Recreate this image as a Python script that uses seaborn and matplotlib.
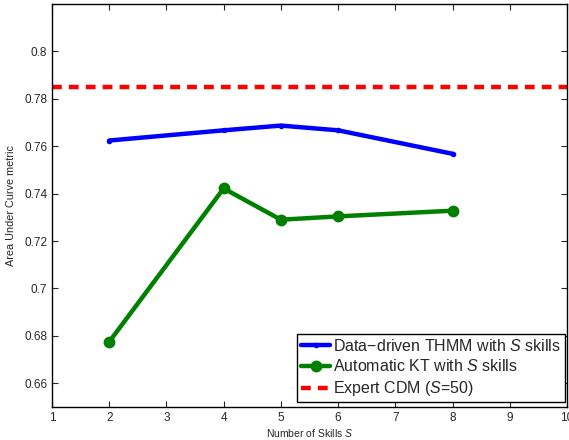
import matplotlib
matplotlib.use("Agg")
import matplotlib.pyplot as plt
import seaborn as sns
import pandas as pd

skills = [2, 4, 5, 6, 8]
thmm_auc = [0.7624, 0.7667, 0.7687, 0.7667, 0.7568]
kt_auc = [0.6775, 0.7422, 0.7290, 0.7304, 0.7328]
expert_auc = 0.785
xticks = [1, 2, 3, 4, 5, 6, 7, 8, 9, 10]
yticks = [0.66, 0.68, 0.70, 0.72, 0.74, 0.76, 0.78, 0.80]
ytick_labels = ["0.66", "0.68", "0.7", "0.72", "0.74", "0.76", "0.78", "0.8"]

sns.set_style("ticks")
plt.rcParams['font.family'] = ['Liberation Sans', 'DejaVu Sans']
plt.rcParams['mathtext.fontset'] = 'custom'
plt.rcParams['mathtext.it'] = 'Liberation Sans:italic'
plt.rcParams['mathtext.rm'] = 'Liberation Sans'

df = pd.DataFrame({"S": skills, "thmm": thmm_auc, "kt": kt_auc})

fig = plt.figure(figsize=(5.69, 4.40), dpi=100)
ax = fig.add_axes([0.0914, 0.075, 0.905, 0.916])

sns.lineplot(data=df, x="S", y="thmm", ax=ax, color="#0000ff", lw=3.2,
             marker="o", markersize=4, markeredgewidth=0,
             label="Data\u2212driven THMM with $S$ skills")
sns.lineplot(data=df, x="S", y="kt", ax=ax, color="#008000", lw=3.2,
             marker="o", markersize=8.5, markeredgewidth=0,
             label="Automatic KT with $S$ skills")
ax.axhline(expert_auc, color="#ff0000", lw=3.2, dashes=(2.2, 1.6),
           label="Expert CDM ($S$=50)")

ax.set_xlim(1, 10)
ax.set_ylim(0.65, 0.82)
ax.set_xticks(xticks)
ax.set_yticks(yticks)
ax.set_yticklabels(ytick_labels)
ax.tick_params(direction="in", top=True, right=True, labelsize=8.5, length=4, width=0.8)
for s in ax.spines.values():
    s.set_linewidth(1.0)
    s.set_color("black")
ax.set_xlabel("Number of Skills $S$", fontsize=7.5, labelpad=2)
ax.set_ylabel("Area Under Curve metric", fontsize=7.8, labelpad=6)

leg = ax.legend(loc="lower right", bbox_to_anchor=(0.996, 0.012),
                fontsize=11.5, frameon=True, fancybox=False,
                edgecolor="black", framealpha=1, borderpad=0.25,
                handlelength=1.8, handletextpad=0.2, labelspacing=0.3,
                borderaxespad=0.0)
leg.get_frame().set_linewidth(1.0)

fig.savefig("out.png", dpi=100)
